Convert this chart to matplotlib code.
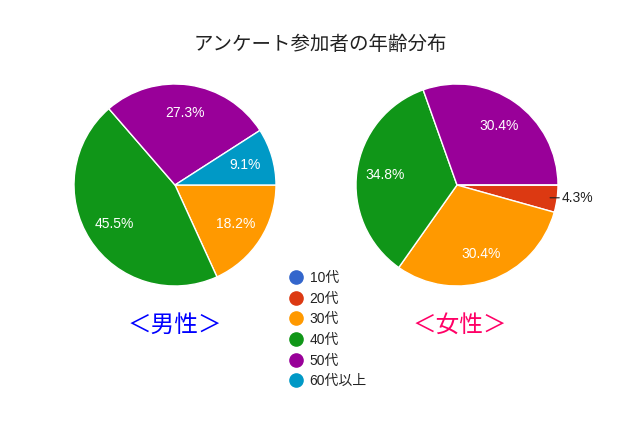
import matplotlib
matplotlib.use("Agg")
import matplotlib.pyplot as plt
from matplotlib.lines import Line2D
import numpy as np

plt.rcParams['font.family'] = ['Liberation Sans', 'Noto Sans CJK JP', 'DejaVu Sans']

title = "アンケート参加者の年齢分布"
categories = ["10代", "20代", "30代", "40代", "50代", "60代以上"]
colors = ["#3366cc", "#dc3912", "#ff9900", "#109618", "#990099", "#0099c6"]
male_values = [0, 0, 2, 5, 3, 1]
female_values = [0, 1, 7, 8, 7, 0]
male_label = "＜男性＞"
female_label = "＜女性＞"

W, H = 640, 425
fig = plt.figure(figsize=(W / 100, H / 100), dpi=100)

R_PX = 101
LIM = 1.3


def make_ax(cx, cy):
    half = R_PX * LIM
    return fig.add_axes([(cx - half) / W, 1 - (cy + half) / H, 2 * half / W, 2 * half / H])


def draw_pie(ax, values):
    total = sum(values)
    wedges, texts, autotexts = ax.pie(
        values, colors=colors, startangle=0, counterclock=False,
        autopct=lambda p: f"{p:.1f}%" if p >= 5 else "",
        pctdistance=0.72, radius=1.0,
        wedgeprops=dict(edgecolor="white", linewidth=1),
        textprops=dict(color="white", fontsize=10))
    ax.set_xlim(-LIM, LIM)
    ax.set_ylim(-LIM, LIM)
    ax.set_aspect("equal")
    ax.axis("off")
    # small slices: outside label with leader line
    start = 0.0
    for v in values:
        frac = v / total
        if 0 < frac < 0.05:
            mid = np.deg2rad(start - frac * 360 / 2)
            x0, y0 = np.cos(mid), np.sin(mid)
            ax.annotate(f"{frac * 100:.1f}%", xy=(x0 * 0.93, y0 * 0.93),
                        xytext=(1.04, y0 * 0.93), textcoords="data",
                        va="center", ha="left", fontsize=10, color="#222222",
                        arrowprops=dict(arrowstyle="-", color="#222222", lw=0.8,
                                        shrinkA=0, shrinkB=0))
        start -= frac * 360


ax1 = make_ax(175, 185)
draw_pie(ax1, male_values)
ax2 = make_ax(457, 185)
draw_pie(ax2, female_values)

fig.text(0.5, 1 - 45 / H, title, ha="center", va="center", fontsize=14, color="#222222")
fig.text(175 / W, 1 - 326 / H, male_label, ha="center", va="center", fontsize=17, color="#0000ff")
fig.text(460 / W, 1 - 326 / H, female_label, ha="center", va="center", fontsize=17, color="#ff0066")

handles = [Line2D([], [], marker="o", linestyle="", markersize=9.5, markerfacecolor=c,
                  markeredgecolor=c) for c in colors]
leg = fig.legend(handles, categories, loc="upper left",
                 bbox_to_anchor=(288 / W, 1 - 271 / H), frameon=False,
                 fontsize=10, handletextpad=0.35, labelspacing=0.48,
                 handlelength=1.2, borderaxespad=0, borderpad=0)
for t in leg.get_texts():
    t.set_color("#222222")

fig.savefig("out.png", dpi=100)
